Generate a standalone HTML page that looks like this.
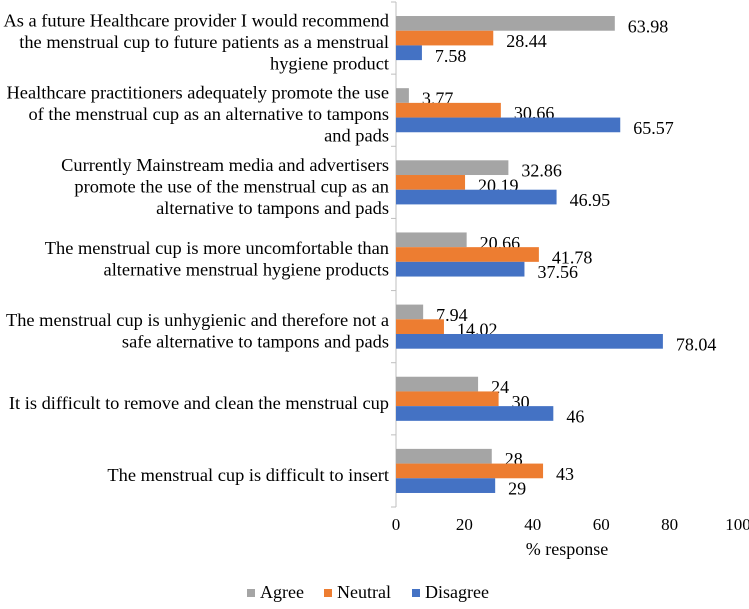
<!DOCTYPE html>
<html><head><meta charset="utf-8"><style>
body{margin:0;background:#fff;}
svg text{font-family:"Liberation Serif","Times New Roman",serif;fill:#000;}
</style></head><body>
<svg width="749" height="604" xmlns="http://www.w3.org/2000/svg" id="chart"></svg>
<script>
const categories=[
 ["As a future Healthcare provider I would recommend","the menstrual cup to future patients as a menstrual","hygiene product"],
 ["Healthcare practitioners adequately promote the use","of the menstrual cup as an alternative to tampons","and pads"],
 ["Currently Mainstream media and advertisers","promote the use of the menstrual cup as an","alternative to tampons and pads"],
 ["The menstrual cup is more uncomfortable than","alternative menstrual hygiene products"],
 ["The menstrual cup is unhygienic and therefore not a","safe alternative to tampons and pads"],
 ["It is difficult to remove and clean the menstrual cup"],
 ["The menstrual cup is difficult to insert"]];
const agree=[63.98,3.77,32.86,20.66,7.94,24,28];
const neutral=[28.44,30.66,20.19,41.78,14.02,30,43];
const disagree=[7.58,65.57,46.95,37.56,78.04,46,29];
const labelsAgree=["63.98","3.77","32.86","20.66","7.94","24","28"];
const labelsNeutral=["28.44","30.66","20.19","41.78","14.02","30","43"];
const labelsDisagree=["7.58","65.57","46.95","37.56","78.04","46","29"];
const xTicks=[0,20,40,60,80,100];
const seriesNames=["Agree","Neutral","Disagree"];
const colors=["#a5a5a5","#ed7d31","#4472c4"];

const svg=document.getElementById('chart');
const NS="http://www.w3.org/2000/svg";
const X0=396,X1=738,Y0=2,Y1=507;
const band=(Y1-Y0)/categories.length;
const bh=14.7;
function xs(v){return X0+(X1-X0)*v/100;}
function el(tag,attrs,txt){const e=document.createElementNS(NS,tag);for(const k in attrs)e.setAttribute(k,attrs[k]);if(txt!=null)e.textContent=txt;svg.appendChild(e);return e;}

const ax=el('line',{x1:X0,y1:Y0,x2:X0,y2:Y1,stroke:'#bfbfbf','stroke-width':1});


for(let i=0;i<=categories.length;i++){
 const y=Y0+i*band;
 const t=el('line',{x1:X0-5,y1:y,x2:X0,y2:y,stroke:'#bfbfbf','stroke-width':1});
 
 
}
const series=[agree,neutral,disagree];
const slabels=[labelsAgree,labelsNeutral,labelsDisagree];
categories.forEach((lines,i)=>{
 const c=Y0+band*i+band/2;
 const lh=21.5;
 lines.forEach((ln,j)=>{
  const t=el('text',{x:389,y:c+4+(j-(lines.length-1)/2)*lh+6,'text-anchor':'end','font-size':'18.4'},ln);
  
  
 });
 series.forEach((s,k)=>{
  const y=c-1.5*bh+k*bh;
  const r=el('rect',{x:X0,y:y,width:xs(s[i])-X0,height:bh,fill:colors[k]});
  
  
  const t=el('text',{x:xs(s[i])+13,y:y+bh/2+9,'font-size':'18'},slabels[k][i]);
  
  
 });
});
xTicks.forEach(v=>{
 const t=el('text',{x:xs(v),y:530,'text-anchor':'middle','font-size':'17'},String(v));
 
 
});
const xt=el('text',{x:567,y:555,'text-anchor':'middle','font-size':'18'},'% response');


const lx=[247,324,412];
seriesNames.forEach((n,k)=>{
 const r=el('rect',{x:lx[k],y:589,width:8,height:8,fill:colors[k]});
 
 
 const t=el('text',{x:lx[k]+13,y:598,'font-size':'18'},n);
 
 
});
</script>
</body></html>
